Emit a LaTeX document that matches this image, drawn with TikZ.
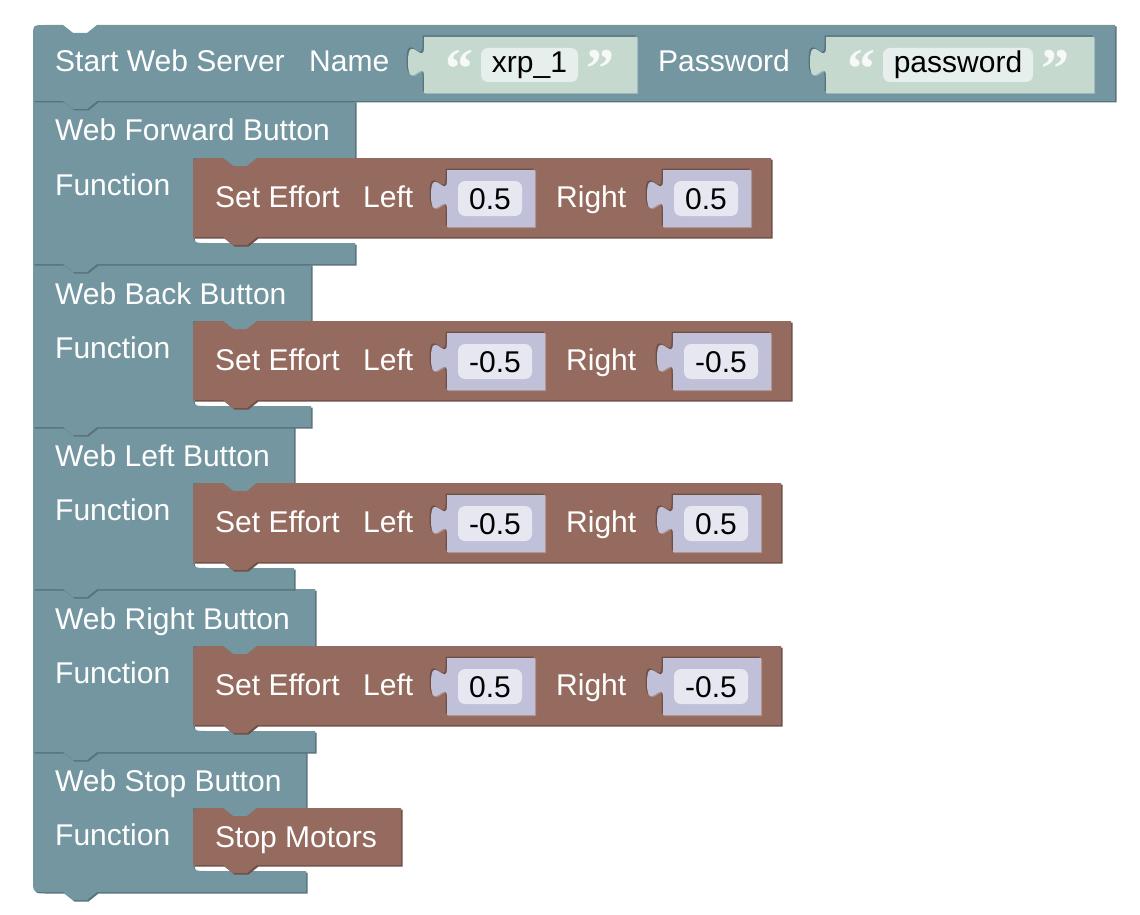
\documentclass[tikz,border=0pt]{standalone}
\usepackage{fontspec}
\setmainfont{Liberation Sans}
\newfontfamily\qfont{Liberation Serif}
\definecolor{blkTeal}{HTML}{7396A1}
\definecolor{blkTealDark}{HTML}{58737C}
\definecolor{blkTealLight}{HTML}{9DB5BD}
\definecolor{blkBrown}{HTML}{956B5F}
\definecolor{blkBrownDark}{HTML}{6F4F46}
\definecolor{blkBrownLight}{HTML}{B08F86}
\definecolor{valLav}{HTML}{C0C1D9}
\definecolor{valLavIn}{HTML}{E6E7F1}
\definecolor{strGreen}{HTML}{C6D9CF}
\definecolor{strGreenIn}{HTML}{E6EFEB}
% C-shaped statement block: #1 top, #2 width edge, #3 mouth bottom, #4 bottom, #5 tail to bottom-left
\newcommand\Cpath[5]{(33,#1) -- (63,#1) -- (73,#1+8) -- (87,#1+8) -- (97,#1) -- (#2,#1) -- (#2,#1+57) -- (257,#1+57) -- (247,#1+65) -- (233,#1+65) -- (223,#1+57) -- (193,#1+57) -- (193,#3-14) .. controls (193,#3) .. (207,#3) -- (#2,#3) -- (#2,#4) -- (97,#4) -- (87,#4+8) -- (73,#4+8) -- (63,#4) #5 -- cycle}
% brown statement block: #1 top, #2 height, #3 right edge
\newcommand\Bpath[3]{(193,#1+12) .. controls (193,#1) .. (205,#1) -- (223,#1) -- (233,#1+8) -- (247,#1+8) -- (257,#1) -- (#3,#1) -- (#3,#1+#2) -- (257,#1+#2) -- (247,#1+#2+8) -- (233,#1+#2+8) -- (223,#1+#2) -- (193,#1+#2) -- cycle}
% value block with puzzle tab: #1 X, #2 Y, #3 W, #4 H
\newcommand\Vpath[4]{(#1,#2) -- (#1+#3,#2) -- (#1+#3,#2+#4) -- (#1,#2+#4) -- (#1,#2+40) .. controls (#1,#2+20) and (#1-16,#2+56) .. (#1-16,#2+25) .. controls (#1-16,#2-6) and (#1,#2+30) .. (#1,#2+10) -- cycle}
\newcommand\valblock[7]{%
  \fill[#7,shift={(1,1)}] \Vpath{#1}{#2}{#3}{#4};
  \fill[#6,shift={(-1.5,-1.5)}] \Vpath{#1}{#2}{#3}{#4};
  \fill[#5] \Vpath{#1}{#2}{#3}{#4};}
\newcommand\cblock[5]{%
  \fill[blkTealDark,shift={(1.5,1.5)}] \Cpath{#1}{#2}{#3}{#4}{#5};
  \fill[blkTeal] \Cpath{#1}{#2}{#3}{#4}{#5};}
\newcommand\bblock[3]{%
  \fill[blkBrownDark,shift={(1.5,1.5)}] \Bpath{#1}{#2}{#3};
  \fill[blkBrown] \Bpath{#1}{#2}{#3};}
\newcommand\numval[5]{% #1 X, #2 Y, #3 W, #4 text, #5 name
  \valblock{#1}{#2}{#3}{57}{valLav}{blkBrownDark}{blkBrownLight}
  \fill[valLavIn,rounded corners=7] (#1+11,#2+11) rectangle (#1+#3-13,#2+46);
  \node[fld] (#5) at (#1+11+0.5*#3-12,#2+39) {#4};}
\begin{document}
\begin{tikzpicture}[x=1pt,y=-1pt,
  lbl/.style={anchor=base west,inner sep=0pt,text=white,font=\fontsize{30}{36}\selectfont},
  fld/.style={anchor=base,inner sep=0pt,text=black,font=\fontsize{30}{36}\selectfont},
  qt/.style={anchor=base west,inner sep=0pt,text=white,text opacity=0.85,font=\qfont\bfseries\fontsize{56}{60}\selectfont}]
\useasboundingbox (0,0) rectangle (1140,915);

% ---- Stop block
\cblock{751}{306}{871}{892}{-- (45,892) .. controls (33,892) .. (33,880)}
\bblock{808}{57}{401}
% ---- Right block
\cblock{589}{315}{731}{752}{-- (33,752)}
\bblock{646}{79}{781}
\numval{447}{658}{88}{0.5}{v4a}
\numval{663}{658}{98}{-0.5}{v4b}
% ---- Left block
\cblock{426}{294}{568}{589}{-- (33,589)}
\bblock{483}{79}{781}
\numval{447}{495}{98}{-0.5}{v3a}
\numval{673}{495}{88}{0.5}{v3b}
% ---- Back block
\cblock{264}{311}{406}{427}{-- (33,427)}
\bblock{321}{79}{791}
\numval{447}{333}{98}{-0.5}{v2a}
\numval{673}{333}{98}{-0.5}{v2b}
% ---- Forward block
\cblock{101}{355}{243}{264}{-- (33,264)}
\bblock{158}{79}{771}
\numval{447}{170}{88}{0.5}{v1a}
\numval{663}{170}{88}{0.5}{v1b}
% ---- Start block
\fill[blkTealDark,shift={(1.5,1.5)}] (33,37) .. controls (33,25) .. (45,25) -- (63,25) -- (73,33) -- (87,33) -- (97,25) -- (1115,25) -- (1115,101) -- (97,101) -- (87,109) -- (73,109) -- (63,101) -- (33,101) -- cycle;
\fill[blkTeal] (33,37) .. controls (33,25) .. (45,25) -- (63,25) -- (73,33) -- (87,33) -- (97,25) -- (1115,25) -- (1115,101) -- (97,101) -- (87,109) -- (73,109) -- (63,101) -- (33,101) -- cycle;
\valblock{424}{37}{213}{56}{strGreen}{blkTealDark}{blkTealLight}
\fill[strGreenIn,rounded corners=7] (481,48) rectangle (578,82);
\valblock{826}{37}{268}{56}{strGreen}{blkTealDark}{blkTealLight}
\fill[strGreenIn,rounded corners=7] (883,48) rectangle (1033,82);

% ---- texts
\node[lbl] (start) at (55,72) {Start Web Server};
\node[lbl] (name) at (309,72) {Name};
\node[qt] (q1o) at (445,88) {“};
\node[fld] (xrp) at (529.5,73) {xrp\_1};
\node[qt] (q1c) at (586,88) {”};
\node[lbl] (pwd) at (658,72) {Password};
\node[qt] (q2o) at (847,88) {“};
\node[fld] (pwdv) at (958,73) {password};
\node[qt] (q2c) at (1041,88) {”};

\node[lbl] (t1) at (55,141) {Web Forward Button};
\node[lbl] (f1) at (55,195) {Function};
\node[lbl] (s1) at (215,207) {Set Effort};
\node[lbl] (l1) at (363,207) {Left};
\node[lbl] (r1) at (556,207) {Right};

\node[lbl] (t2) at (55,304) {Web Back Button};
\node[lbl] (f2) at (55,358) {Function};
\node[lbl] (s2) at (215,370) {Set Effort};
\node[lbl] (l2) at (363,370) {Left};
\node[lbl] (r2) at (566,370) {Right};

\node[lbl] (t3) at (55,466) {Web Left Button};
\node[lbl] (f3) at (55,520) {Function};
\node[lbl] (s3) at (215,532) {Set Effort};
\node[lbl] (l3) at (363,532) {Left};
\node[lbl] (r3) at (566,532) {Right};

\node[lbl] (t4) at (55,629) {Web Right Button};
\node[lbl] (f4) at (55,683) {Function};
\node[lbl] (s4) at (215,695) {Set Effort};
\node[lbl] (l4) at (363,695) {Left};
\node[lbl] (r4) at (556,695) {Right};

\node[lbl] (t5) at (55,791) {Web Stop Button};
\node[lbl] (f5) at (55,845) {Function};
\node[lbl] (s5) at (215,847) {Stop Motors};
\end{tikzpicture}
\end{document}
